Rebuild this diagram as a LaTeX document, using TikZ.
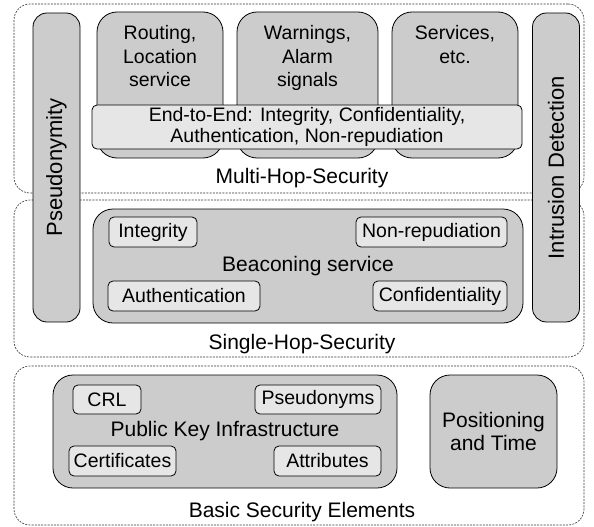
\documentclass[tikz,border=0pt]{standalone}
\usepackage{fontspec}
\setmainfont{Liberation Sans}
\usetikzlibrary{positioning}
\definecolor{boxgray}{RGB}{204,204,204}
\definecolor{taggray}{RGB}{230,230,230}

\begin{document}
\begin{tikzpicture}[x=1pt,y=-1pt,
		every node/.style={font=\fontsize{19.5}{23.5}\selectfont},
		big/.style={font=\fontsize{21}{23.5}\selectfont},
		layer/.style={draw=black!80, line width=0.6pt, dash pattern=on 2pt off 1.2pt, rounded corners=16pt, minimum width=570pt, inner sep=0},
		block/.style={draw, fill=boxgray, line width=0.8pt, rounded corners=20pt, inner sep=0, align=center},
		bar/.style={block, rounded corners=14pt, rotate=90, minimum width=309pt, minimum height=47pt, font=\fontsize{22}{24}\selectfont},
		tag/.style={draw, fill=taggray, line width=0.8pt, rounded corners=5pt, minimum height=30pt, inner sep=0},
		caption/.style={big, inner sep=0, align=center}]
		\useasboundingbox (0,0) rectangle (594,527);
		% layers
		\node[layer, minimum height=189pt] (multi) at (299,98.5) {};
		\node[layer, minimum height=157pt] (single) at (299,278.5) {};
		\node[layer, minimum height=159pt] (basic) at (299,445.5) {};
		\node[caption] (multilbl) at (302,178) {Multi-Hop-Security};
		\node[caption] (singlelbl) at (302,344) {Single-Hop-Security};
		\node[caption] (basiclbl) at (302,512) {Basic Security Elements};
		% side bars
		\node[bar] (pseudo) at (56.5,167.5) {Pseudonymity};
		\node[bar] (intrusion) at (556,167.5) {Intrusion Detection};
		% multi hop
		\node[block, minimum width=126pt, minimum height=146pt] (routing) at (160,85) {};
		\node[block, minimum width=141pt, minimum height=146pt] (warnings) at (307.5,85) {};
		\node[block, minimum width=126pt, minimum height=146pt] (services) at (455,85) {};
		\node[caption, font=\fontsize{19.5}{23.5}\selectfont, anchor=north] (routingtxt) at ([yshift=-14pt]routing.north) {Routing,\\Location\\service};
		\node[caption, font=\fontsize{19.5}{23.5}\selectfont, anchor=north] (warningstxt) at ([yshift=-14pt]warnings.north) {Warnings,\\Alarm\\signals};
		\node[caption, font=\fontsize{19.5}{23.5}\selectfont, anchor=north] (servicestxt) at ([yshift=-14pt]services.north) {Services,\\etc.};
		\node[tag, minimum width=430pt, minimum height=44pt, align=center, font=\fontsize{19.5}{20.5}\selectfont] (e2e) at (307,127) {End-to-End: Integrity, Confidentiality,\\Authentication, Non-repudiation};
		% single hop
		\node[block, big, minimum width=430pt, minimum height=114pt] (beacon) at (308,266) {Beaconing service};
		\node[tag, minimum width=88pt] (integ) at (153,232) {Integrity};
		\node[tag, minimum width=151pt] (nonrep) at (431.5,232) {Non-repudiation};
		\node[tag, minimum width=152pt] (auth) at (184,296) {Authentication};
		\node[tag, minimum width=134pt] (conf) at (440,296) {Confidentiality};
		% basic elements
		\node[block, big, minimum width=344pt, minimum height=113pt] (pki) at (225,431.5) {Public Key Infrastructure};
		\node[tag, minimum width=68pt, minimum height=29pt] (crl) at (107,399.5) {CRL};
		\node[tag, minimum width=126pt, minimum height=29pt] (pseudonyms) at (318,399.5) {Pseudonyms};
		\node[tag, minimum width=107pt] (certs) at (122.5,461) {Certificates};
		\node[tag, minimum width=107pt] (attrs) at (327.5,461) {Attributes};
		\node[block, big, minimum width=127pt, minimum height=113pt] (postime) at (493.5,431.5) {Positioning\\and Time};
\end{tikzpicture}
\end{document}
